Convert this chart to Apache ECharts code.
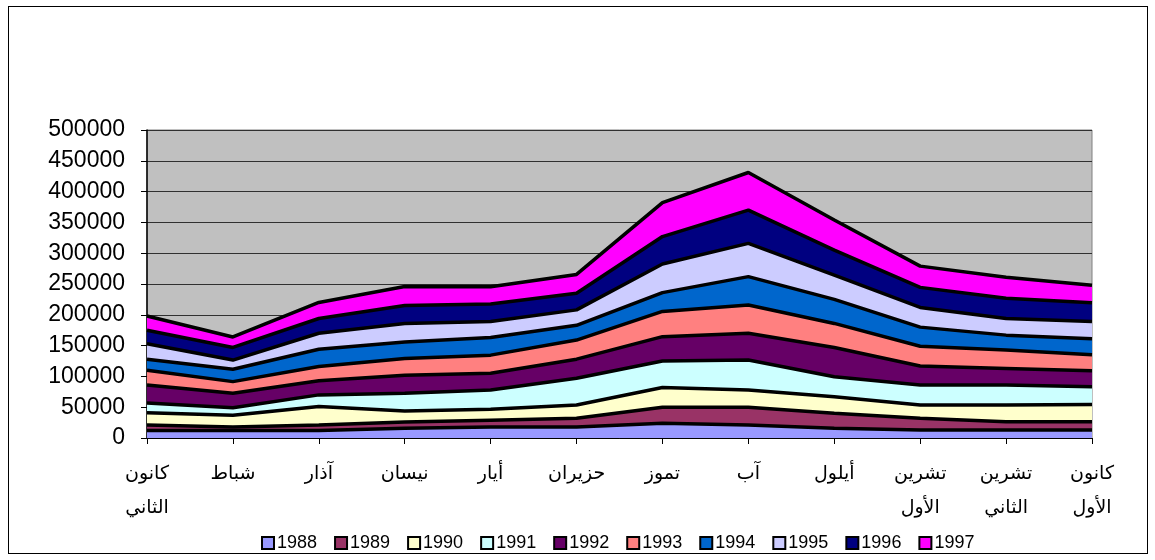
<!DOCTYPE html>
<html>
<head>
<meta charset="utf-8">
<script src="https://cdn.jsdelivr.net/npm/echarts@6/dist/echarts.min.js"></script>
<style>
  html, body { margin: 0; padding: 0; background: #fff; }
  #frame { position: absolute; left: 8px; top: 6px; width: 1138px; height: 546px; border: 1px solid #000; }
  #chart { position: absolute; left: 0; top: 0; width: 1155px; height: 560px; }
</style>
</head>
<body>
<div id="frame"></div>
<div id="chart"></div>
<script>
const months = ['كانون الثاني', 'شباط', 'آذار', 'نيسان', 'أيار', 'حزيران', 'تموز', 'آب', 'أيلول', 'تشرين الأول', 'تشرين الثاني', 'كانون الأول']
const years = ['1988', '1989', '1990', '1991', '1992', '1993', '1994', '1995', '1996', '1997']

const v1988 = [12000, 12000, 12000, 16000, 18000, 18000, 24000, 21000, 16000, 13000, 13000, 13000]
const v1989 = [9000, 6000, 9000, 10000, 11000, 14000, 26000, 29000, 24000, 19000, 13500, 13500]
const v1990 = [20000, 19000, 30000, 18000, 17500, 21500, 32000, 28000, 27000, 21500, 27000, 28000]
const v1991 = [16000, 12000, 19000, 28500, 31500, 43500, 43000, 48500, 32500, 32500, 32500, 28500]
const v1992 = [29000, 23500, 23000, 29500, 27000, 31000, 39500, 43500, 47500, 31000, 27000, 26000]
const v1993 = [24000, 19000, 23000, 27000, 29500, 31000, 41000, 46000, 39000, 32000, 30000, 26000]
const v1994 = [18000, 20000, 28000, 27000, 28500, 24000, 30500, 46000, 39000, 31000, 24000, 26000]
const v1995 = [25000, 15000, 26000, 30000, 26000, 25000, 46500, 54000, 39500, 32000, 27000, 28000]
const v1996 = [22000, 20500, 24000, 29000, 28500, 27000, 44500, 54000, 40500, 32500, 33000, 30500]
const v1997 = [23000, 17000, 26000, 31000, 28000, 30500, 55000, 61000, 49000, 34500, 34000, 28500]

const yearValues = [v1988, v1989, v1990, v1991, v1992, v1993, v1994, v1995, v1996, v1997]
const colors = ['#9999ff', '#993366', '#ffffcc', '#ccffff', '#660066', '#ff8080', '#0066cc', '#ccccff', '#000080', '#ff00ff']

const chart = echarts.init(document.getElementById('chart'))

chart.setOption({
  animation: false,
  color: colors,
  grid: {
    left: 147,
    right: 63,
    top: 130,
    bottom: 122,
    show: true,
    backgroundColor: '#c0c0c0',
    borderColor: '#808080',
    borderWidth: 1
  },
  legend: {
    data: years,
    top: 529,
    left: 256,
    icon: 'rect',
    itemWidth: 12,
    itemHeight: 12,
    itemGap: 17,
    itemStyle: { borderColor: '#000', borderWidth: 2 },
    textStyle: { fontFamily: 'Liberation Sans', fontSize: 18, color: '#000', padding: [0, 0, 0, -2] }
  },
  xAxis: {
    type: 'category',
    data: months,
    boundaryGap: false,
    axisLine: { lineStyle: { color: '#000', width: 1 } },
    axisTick: { show: true, length: 6, lineStyle: { color: '#000' } },
    axisLabel: {
      interval: 0,
      margin: 19,
      color: '#000',
      fontFamily: 'DejaVu Sans',
      fontSize: 19,
      lineHeight: 34,
      formatter: (s) => s.replace(' ', '\n')
    }
  },
  yAxis: {
    type: 'value',
    min: 0,
    max: 500000,
    interval: 50000,
    axisLine: { show: true, lineStyle: { color: '#000', width: 1.5 } },
    axisTick: { show: true, length: 6, lineStyle: { color: '#000' } },
    splitLine: { lineStyle: { color: '#303030', width: 1.2 } },
    axisLabel: {
      margin: 22,
      color: '#000',
      fontFamily: 'Liberation Sans',
      fontSize: 23,
      formatter: (v) => String(v)
    }
  },
  series: years.map((y, i) => ({
    name: y,
    type: 'line',
    stack: 'total',
    data: yearValues[i],
    symbol: 'none',
    lineStyle: { color: '#000', width: 3.5 },
    areaStyle: { color: colors[i], opacity: 1 },
    itemStyle: { color: colors[i] }
  }))
})
</script>
</body>
</html>
